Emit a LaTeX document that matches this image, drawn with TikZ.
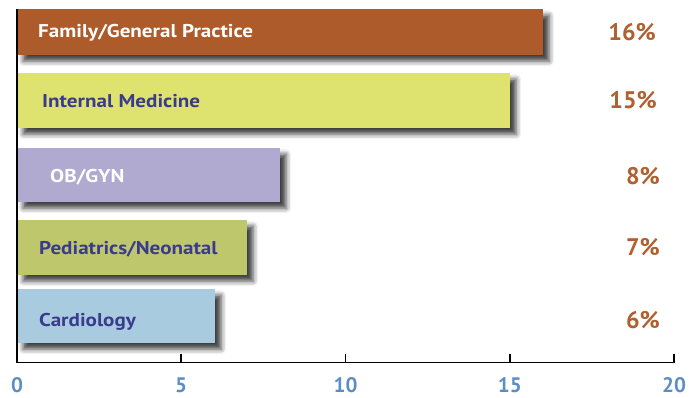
\documentclass[tikz,border=0pt]{standalone}
\usepackage{fontspec}
\setmainfont{PT Sans}
\newfontfamily\labfont[FakeStretch=1.14]{PT Sans}
\usetikzlibrary{shadows.blur}
\definecolor{cFam}{HTML}{AD5B2B}
\definecolor{cInt}{HTML}{DDE36E}
\definecolor{cOB}{HTML}{B0A9D0}
\definecolor{cPed}{HTML}{BFC76C}
\definecolor{cCar}{HTML}{A9CBE0}
\definecolor{cLab}{HTML}{3B3B8E}
\definecolor{cPct}{HTML}{B0602E}
\definecolor{cTick}{HTML}{5B8EC4}
\tikzset{
  bar/.style={draw=none, anchor=north west, inner sep=0pt, minimum height=#1,
    blur shadow={shadow xshift=6pt, shadow yshift=-6pt, shadow blur radius=5pt, shadow opacity=75}},
  barlab/.style={anchor=base west, font=\labfont\bfseries\fontsize{18.5}{20}\selectfont, inner sep=0pt},
  pct/.style={anchor=base east, font=\bfseries\fontsize{24}{26}\selectfont, text=cPct, inner sep=0pt},
  ticklab/.style={anchor=base, font=\bfseries\fontsize{21}{23}\selectfont, text=cTick, inner sep=0pt},
  axis/.style={line width=1.6pt, black},
}
\begin{document}
\begin{tikzpicture}[x=1pt,y=-1pt]
\useasboundingbox (0,0) rectangle (699,397);
% bars
\node[bar=46pt, fill=cFam, minimum width=526pt] (b1) at (17,9) {};
\node[bar=55pt, fill=cInt, minimum width=493pt] (b2) at (17,73) {};
\node[bar=54pt, fill=cOB, minimum width=263pt] (b3) at (17,148) {};
\node[bar=55pt, fill=cPed, minimum width=230pt] (b4) at (17,220) {};
\node[bar=54pt, fill=cCar, minimum width=198pt] (b5) at (17,289) {};
% labels
\node[barlab, text=white] (l1) at (38,37) {Family/General Practice};
\node[barlab, text=cLab] (l2) at (42,107) {Internal Medicine};
\node[barlab, text=white] (l3) at (50,182) {OB/GYN};
\node[barlab, text=cLab] (l4) at (39,254) {Pediatrics/Neonatal};
\node[barlab, text=cLab] (l5) at (39,326) {Cardiology};
% percentages
\node[pct] (p1) at (656,40.5) {16\%};
\node[pct] (p2) at (657,108) {15\%};
\node[pct] (p3) at (660,184.5) {8\%};
\node[pct] (p4) at (660,255.5) {7\%};
\node[pct] (p5) at (660,328.5) {6\%};
% axes
\coordinate (top) at (17,9);
\coordinate (o) at (17,362.5);
\coordinate (xe) at (674,362.5);
\draw[axis] (top) -- (o) -- (xe);
\foreach \v/\px in {5/181.2,10/345.5,15/509.8,20/674} {
  \coordinate (t\v) at (\px,362.5);
  \coordinate (tt\v) at (\px,354);
  \draw[axis] (t\v) -- (tt\v);
}
\node[ticklab] (n0) at (17,392) {0};
\node[ticklab] (n5) at (181.2,392) {5};
\node[ticklab] (n10) at (345.5,392) {10};
\node[ticklab] (n15) at (509.8,392) {15};
\node[ticklab] (n20) at (674,392) {20};
\end{tikzpicture}
\end{document}
